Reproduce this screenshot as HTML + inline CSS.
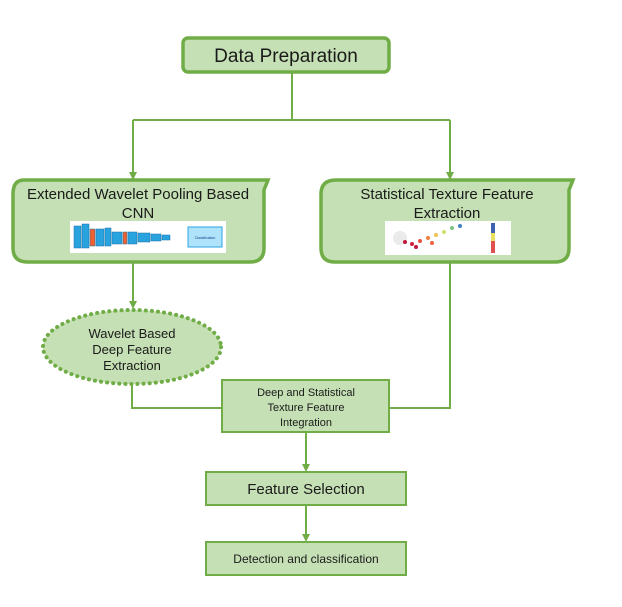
<!DOCTYPE html>
<html><head><meta charset="utf-8"><style>
html,body{margin:0;padding:0;background:#fff}
text{font-family:"Liberation Sans",sans-serif;fill:#1a1a1a}
</style></head><body>
<svg width="622" height="602" viewBox="0 0 622 602" xmlns="http://www.w3.org/2000/svg">
<defs>
<marker id="a" markerWidth="8" markerHeight="8" refX="4" refY="4" orient="auto" markerUnits="userSpaceOnUse">
<path d="M0,0 L8,4 L0,8 z" fill="#70ad47"/></marker>
</defs>
<g stroke="#70ad47" stroke-width="2" fill="none">
<path d="M292,72 V120 M133,120 H450"/>
<path d="M133,120 V176" marker-end="url(#a)"/>
<path d="M450,120 V176" marker-end="url(#a)"/>
<path d="M133,262 V305" marker-end="url(#a)"/>
<path d="M132,385 V408 H222"/>
<path d="M450,262 V408 H389"/>
<path d="M306,432 V468" marker-end="url(#a)"/>
<path d="M306,505 V538" marker-end="url(#a)"/>
</g>
<rect x="183" y="38" width="206" height="34" rx="5" fill="#c5e0b4" stroke="#70ad47" stroke-width="3.5"/>
<text x="286" y="62" font-size="19" text-anchor="middle">Data Preparation</text>
<path d="M24,180 H268 L264,190 V248 Q264,262 250,262 H28 Q13,262 13,248 V194 Q13,180 24,180 z" fill="#c5e0b4" stroke="#70ad47" stroke-width="3.5"/>
<path d="M336,180 H573 L569,190 V248 Q569,262 555,262 H335 Q321,262 321,248 V194 Q321,180 336,180 z" fill="#c5e0b4" stroke="#70ad47" stroke-width="3.5"/>
<text x="138" y="199" font-size="15" text-anchor="middle">Extended Wavelet Pooling Based</text>
<text x="138" y="218" font-size="15" text-anchor="middle">CNN</text>
<text x="447" y="199" font-size="15" text-anchor="middle">Statistical Texture Feature</text>
<text x="447" y="218" font-size="15" text-anchor="middle">Extraction</text>
<rect x="70" y="221" width="156" height="32" fill="#fff"/>
<g fill="#29a3e0" stroke="#1a6fa0" stroke-width="0.5">
<rect x="74" y="226" width="7" height="22"/><rect x="82" y="224" width="7" height="24"/>
<rect x="90" y="229" width="5" height="17" fill="#f06030"/><rect x="96" y="229" width="8" height="17"/>
<rect x="105" y="228" width="6" height="18"/><rect x="112" y="232" width="10" height="12"/>
<rect x="123" y="232" width="4" height="12" fill="#f06030"/><rect x="128" y="232" width="9" height="12"/>
<rect x="138" y="233" width="12" height="9"/><rect x="151" y="234" width="10" height="7"/>
<rect x="162" y="235" width="8" height="5"/>
</g>
<rect x="188" y="227" width="34" height="20" fill="#aee3fb" stroke="#29a3e0"/>
<text x="205" y="239" font-size="3.5" text-anchor="middle" style="fill:#1a3e8a">Classification</text>
<rect x="385" y="221" width="126" height="34" fill="#fff"/>
<g>
<circle cx="400" cy="238" r="7" fill="#ccc" opacity="0.4"/>
<circle cx="405" cy="242" r="2" fill="#c0163c"/><circle cx="412" cy="244" r="2" fill="#d02040"/>
<circle cx="420" cy="241" r="2" fill="#e85040"/><circle cx="428" cy="238" r="2" fill="#f08040"/>
<circle cx="436" cy="235" r="2" fill="#f0c050"/><circle cx="444" cy="232" r="2" fill="#d0e070"/>
<circle cx="452" cy="228" r="2" fill="#80c080"/><circle cx="460" cy="226" r="2" fill="#4080c0"/>
<circle cx="416" cy="247" r="2" fill="#c0163c"/><circle cx="432" cy="243" r="2" fill="#f06040"/>
</g>
<rect x="491" y="223" width="4" height="30" fill="#e05050"/>
<rect x="491" y="223" width="4" height="10" fill="#4060b0"/>
<rect x="491" y="233" width="4" height="8" fill="#e8e060"/>
<ellipse cx="132" cy="347" rx="89" ry="37" fill="#c5e0b4" stroke="#70ad47" stroke-width="4" stroke-dasharray="0.1,6" stroke-linecap="round"/>
<text x="132" y="338" font-size="13" text-anchor="middle">Wavelet Based</text>
<text x="132" y="354" font-size="13" text-anchor="middle">Deep Feature</text>
<text x="132" y="370" font-size="13" text-anchor="middle">Extraction</text>
<rect x="222" y="380" width="167" height="52" fill="#c5e0b4" stroke="#70ad47" stroke-width="2"/>
<text x="306" y="396" font-size="11" text-anchor="middle">Deep and Statistical</text>
<text x="306" y="411" font-size="11" text-anchor="middle">Texture Feature</text>
<text x="306" y="426" font-size="11" text-anchor="middle">Integration</text>
<rect x="206" y="472" width="200" height="33" fill="#c5e0b4" stroke="#70ad47" stroke-width="2"/>
<text x="306" y="494" font-size="15" text-anchor="middle">Feature Selection</text>
<rect x="206" y="542" width="200" height="33" fill="#c5e0b4" stroke="#70ad47" stroke-width="2"/>
<text x="306" y="563" font-size="12" text-anchor="middle">Detection and classification</text>
</svg>
</body></html>
